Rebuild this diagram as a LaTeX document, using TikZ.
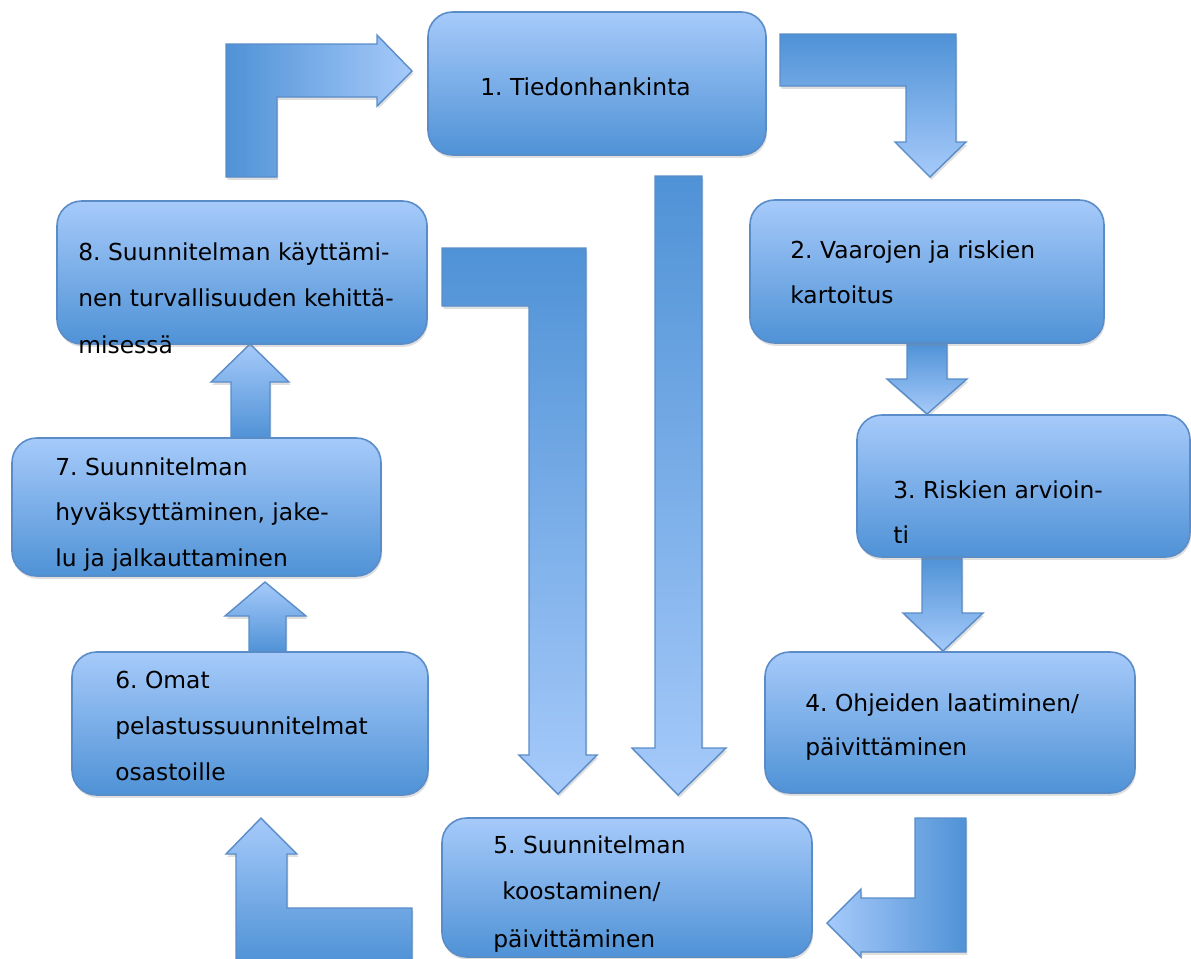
\documentclass[tikz,border=0pt]{standalone}
\usepackage{fontspec}
\setmainfont{DejaVu Sans}
\frenchspacing
\usetikzlibrary{fit,shadows}
\definecolor{blight}{HTML}{A6CAFA}
\definecolor{bdark}{HTML}{4F92D6}
\definecolor{bline}{HTML}{5A8CC8}
\tikzset{
  box/.style={draw=bline, line width=0.9pt, rounded corners=14pt,
    top color=blight, bottom color=bdark, inner sep=0pt,
    drop shadow={opacity=0.25, shadow xshift=0.6pt, shadow yshift=-1.6pt}},
  barrow/.style={draw=bline, line width=0.8pt, line join=miter,
    drop shadow={opacity=0.25, shadow xshift=0.8pt, shadow yshift=-1.6pt}},
  txt/.style={font=\fontsize{13.3}{16}\selectfont, text=black, inner sep=0pt, anchor=base west},
}
\begin{document}
\begin{tikzpicture}[x=0.02cm, y=-0.02cm]
\useasboundingbox (0,0) rectangle (1191,958);
\clip (0,0) rectangle (1191,958);
\fill[white] (0,0) rectangle (1191,958);

% ---- block arrows ----
% 8 -> 1 (up then right)
\path[barrow, left color=bdark, right color=blight]
  (226,177) -- (226,44) -- (377,44) -- (377,35) -- (412,71) -- (377,106) -- (377,97) -- (277,97) -- (277,177) -- cycle;
% 1 -> 2 (right then down)
\path[barrow, top color=bdark, bottom color=blight]
  (780,34) -- (956,34) -- (956,142) -- (966,142) -- (930,177) -- (895,142) -- (906,142) -- (906,86) -- (780,86) -- cycle;
% 2 -> 3
\path[barrow, top color=bdark, bottom color=blight]
  (907,343) -- (947,343) -- (947,379) -- (967,379) -- (927,414) -- (887,379) -- (907,379) -- cycle;
% 3 -> 4
\path[barrow, top color=bdark, bottom color=blight]
  (922,557) -- (962,557) -- (962,613) -- (983,613) -- (943,651) -- (903,613) -- (922,613) -- cycle;
% 8 -> 5 (long)
\path[barrow, top color=bdark, bottom color=blight]
  (442,248) -- (586,248) -- (586,755) -- (597,755) -- (558,794) -- (519,755) -- (529,755) -- (529,306) -- (442,306) -- cycle;
% 1 -> 5 (long)
\path[barrow, top color=bdark, bottom color=blight]
  (655,176) -- (702,176) -- (702,748) -- (726,748) -- (678,795) -- (632,748) -- (655,748) -- cycle;
% 4 -> 5 (down then left)
\path[barrow, left color=blight, right color=bdark]
  (915,818) -- (966,818) -- (966,952) -- (861,952) -- (861,957) -- (827,923) -- (861,889) -- (861,898) -- (915,898) -- cycle;
% 5 -> 6 (left then up)
\path[barrow, top color=blight, bottom color=bdark]
  (412,962) -- (236,962) -- (236,854) -- (226,854) -- (261,818) -- (297,854) -- (287,854) -- (287,908) -- (412,908) -- cycle;
% 6 -> 7
\path[barrow, top color=blight, bottom color=bdark]
  (249,652) -- (249,616) -- (225,616) -- (265,582) -- (306,616) -- (286,616) -- (286,652) -- cycle;
% 7 -> 8
\path[barrow, top color=blight, bottom color=bdark]
  (231,438) -- (231,382) -- (211,382) -- (250,344) -- (289,382) -- (270,382) -- (270,438) -- cycle;

% ---- boxes ----
\node[box, fit={(428,12) (766,155)}] (b1) {};
\node[box, fit={(750,200) (1104,343)}] (b2) {};
\node[box, fit={(857,415) (1190,557)}] (b3) {};
\node[box, fit={(765,652) (1135,793)}] (b4) {};
\node[box, fit={(442,818) (812,957)}] (b5) {};
\node[box, fit={(72,652) (428,795)}] (b6) {};
\node[box, fit={(12,438) (381,576)}] (b7) {};
\node[box, fit={(57,201) (427,344)}] (b8) {};

% ---- texts ----
\node[txt] (t1) at (480,95) {1. Tiedonhankinta};
\node[txt] (t2a) at (790,258) {2. Vaarojen ja riskien};
\node[txt] (t2b) at (790,303) {kartoitus};
\node[txt] (t3a) at (893,498) {3. Riskien arvioin-};
\node[txt] (t3b) at (893,543) {ti};
\node[txt] (t4a) at (805,711) {4. Ohjeiden laatiminen/};
\node[txt] (t4b) at (805,755) {päivittäminen};
\node[txt] (t5a) at (493,853) {5. Suunnitelman};
\node[txt] (t5b) at (502,899) {koostaminen/};
\node[txt] (t5c) at (493,947) {päivittäminen};
\node[txt] (t6a) at (115,688) {6. Omat};
\node[txt] (t6b) at (115,734) {pelastussuunnitelmat};
\node[txt] (t6c) at (115,780) {osastoille};
\node[txt] (t7a) at (55,475) {7. Suunnitelman};
\node[txt] (t7b) at (55,520) {hyväksyttäminen, jake-};
\node[txt] (t7c) at (55,566) {lu ja jalkauttaminen};
\node[txt] (t8a) at (78,260) {8. Suunnitelman käyttämi-};
\node[txt] (t8b) at (78,306) {nen turvallisuuden kehittä-};
\node[txt] (t8c) at (78,353) {misessä};
\end{tikzpicture}
\end{document}
